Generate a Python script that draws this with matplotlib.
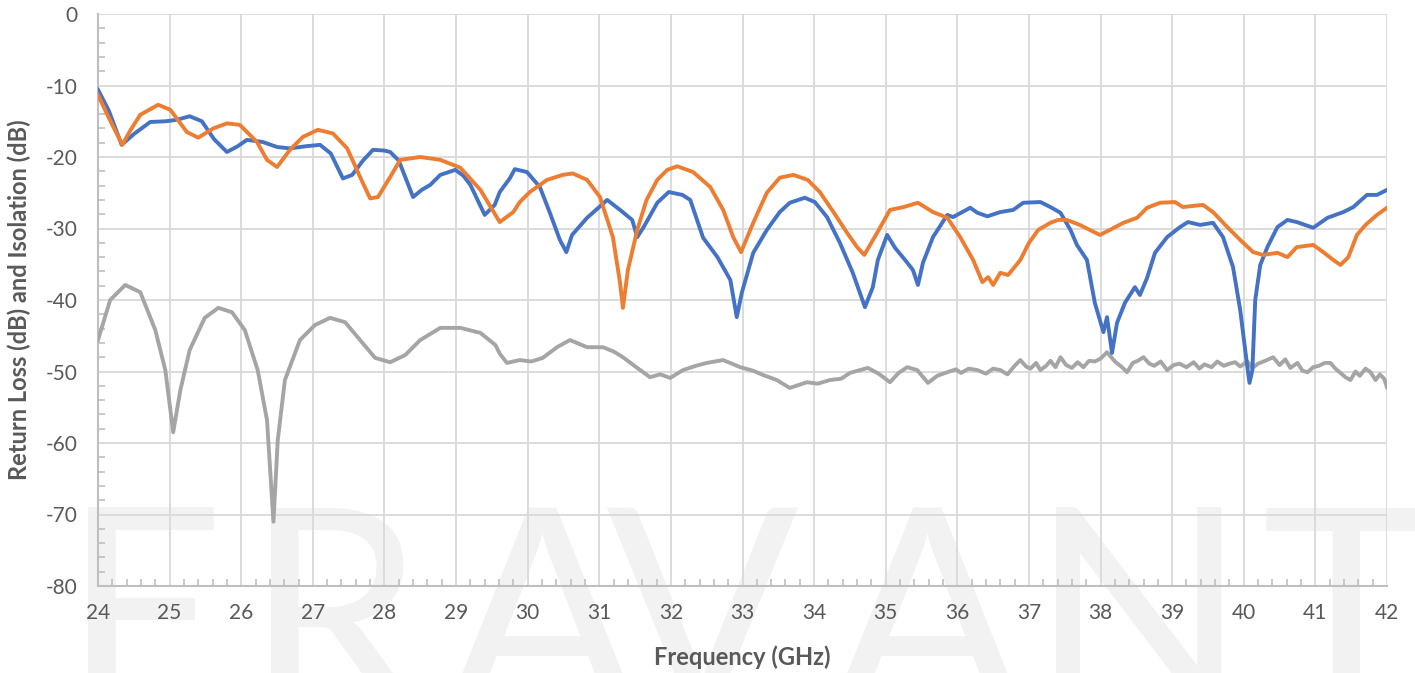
import matplotlib
matplotlib.use('Agg')
import matplotlib.pyplot as plt
from matplotlib.ticker import MultipleLocator

plt.rcParams['font.family'] = ['Lato', 'DejaVu Sans']
plt.rcParams['axes.unicode_minus'] = False

# return loss, port 1 (blue)
f_s11 = [24.0, 24.15, 24.33, 24.5, 24.73, 24.95, 25.1, 25.28, 25.45, 25.62, 25.8, 25.95, 26.08,
         26.3, 26.5, 26.68, 26.9, 27.1, 27.25, 27.42, 27.55, 27.7, 27.84, 28.0, 28.08, 28.2,
         28.4, 28.52, 28.64, 28.78, 28.99, 29.1, 29.2, 29.4, 29.54, 29.61, 29.75, 29.82,
         29.99, 30.17, 30.31, 30.45, 30.54, 30.62, 30.83, 31.0, 31.11, 31.29, 31.46, 31.53,
         31.62, 31.81, 31.97, 32.16, 32.27, 32.45, 32.65, 32.83, 32.92, 32.99, 33.15, 33.34,
         33.52, 33.66, 33.87, 34.01, 34.18, 34.36, 34.54, 34.71, 34.82, 34.89, 35.02, 35.13,
         35.27, 35.38, 35.45, 35.52, 35.66, 35.86, 35.94, 36.07, 36.18, 36.28, 36.42, 36.6,
         36.78, 36.92, 37.16, 37.3, 37.44, 37.58, 37.67, 37.81, 37.92, 38.04, 38.09, 38.16,
         38.23, 38.34, 38.48, 38.55, 38.65, 38.76, 38.93, 39.11, 39.22, 39.39, 39.57, 39.71,
         39.85, 39.95, 40.05, 40.08, 40.12, 40.16, 40.23, 40.33, 40.47, 40.61, 40.74, 40.97,
         41.17, 41.39, 41.53, 41.72, 41.86, 42.0]
s11 = [-10.6, -13.5, -18.3, -16.8, -15.1, -15.0, -14.8, -14.3, -15.0, -17.5, -19.3, -18.5, -17.6,
       -17.9, -18.6, -18.8, -18.5, -18.3, -19.5, -23.0, -22.5, -20.5, -19.0, -19.1, -19.3, -20.5,
       -25.6, -24.6, -23.9, -22.5, -21.8, -22.6, -23.9, -28.1, -26.7, -24.9, -23.0, -21.7,
       -22.1, -24.2, -27.8, -31.6, -33.3, -30.9, -28.5, -27.0, -26.0, -27.4, -28.8, -31.2,
       -29.8, -26.4, -24.9, -25.3, -26.0, -31.3, -34.0, -37.2, -42.4, -39.0, -33.4, -30.2,
       -27.7, -26.4, -25.7, -26.3, -28.4, -32.0, -36.2, -41.0, -38.2, -34.4, -30.9, -32.7,
       -34.4, -35.8, -37.9, -34.8, -31.2, -28.1, -28.4, -27.7, -27.1, -27.8, -28.3, -27.7,
       -27.4, -26.4, -26.3, -27.0, -27.8, -30.2, -32.3, -34.4, -40.4, -44.5, -42.4, -47.4,
       -43.2, -40.4, -38.2, -39.3, -36.9, -33.4, -31.2, -29.8, -29.1, -29.5, -29.2, -31.2,
       -35.4, -41.4, -49.4, -51.6, -49.8, -40.0, -35.1, -32.6, -29.8, -28.8, -29.1, -29.9,
       -28.5, -27.7, -27.0, -25.3, -25.3, -24.6]

# return loss, port 2 (orange)
f_s22 = [24.0, 24.15, 24.34, 24.45, 24.59, 24.84, 25.01, 25.24, 25.4, 25.61, 25.8, 25.98, 26.22,
         26.36, 26.5, 26.68, 26.86, 27.07, 27.28, 27.48, 27.66, 27.8, 27.91, 28.08, 28.22, 28.5,
         28.78, 29.06, 29.34, 29.61, 29.8, 29.89, 30.03, 30.27, 30.49, 30.63, 30.83, 31.01,
         31.19, 31.29, 31.33, 31.4, 31.53, 31.66, 31.81, 31.95, 32.09, 32.31, 32.55, 32.73,
         32.87, 32.98, 33.15, 33.34, 33.52, 33.71, 33.91, 34.08, 34.27, 34.46, 34.6, 34.7,
         34.88, 35.06, 35.25, 35.45, 35.66, 35.86, 36.04, 36.22, 36.35, 36.43, 36.5, 36.6,
         36.71, 36.88, 37.0, 37.13, 37.3, 37.41, 37.53, 37.71, 37.99, 38.13, 38.32, 38.51,
         38.65, 38.83, 39.04, 39.15, 39.43, 39.57, 39.77, 39.95, 40.13, 40.27, 40.47, 40.61,
         40.74, 40.97, 41.11, 41.25, 41.35, 41.46, 41.58, 41.7, 41.86, 42.0]
s22 = [-11.3, -14.5, -18.3, -16.3, -14.1, -12.7, -13.4, -16.5, -17.3, -16.0, -15.3, -15.5, -17.9,
       -20.4, -21.4, -19.0, -17.2, -16.2, -16.7, -18.8, -22.8, -25.8, -25.6, -22.8, -20.4, -20.0,
       -20.4, -21.5, -24.6, -29.1, -27.7, -26.3, -24.9, -23.2, -22.5, -22.3, -23.2, -25.6,
       -31.2, -37.6, -41.1, -35.8, -30.2, -26.0, -23.2, -21.8, -21.3, -22.1, -24.2, -27.4,
       -31.2, -33.3, -29.2, -25.0, -22.9, -22.5, -23.2, -24.9, -27.7, -30.6, -32.6, -33.7,
       -30.6, -27.4, -27.0, -26.4, -27.7, -28.5, -31.2, -34.4, -37.5, -36.8, -37.9, -36.2,
       -36.5, -34.4, -32.0, -30.2, -29.2, -28.8, -28.8, -29.5, -30.9, -30.2, -29.2, -28.5,
       -27.1, -26.4, -26.3, -27.0, -26.7, -27.7, -29.8, -31.6, -33.3, -33.7, -33.4, -34.0,
       -32.6, -32.3, -33.3, -34.4, -35.1, -34.0, -30.9, -29.5, -28.1, -27.1]

# isolation (gray)
f_iso = [24.0, 24.17, 24.38, 24.59, 24.8, 24.94, 25.05, 25.15, 25.28, 25.49, 25.68, 25.87, 26.05,
         26.23, 26.36, 26.45, 26.51, 26.61, 26.82, 27.03, 27.24, 27.45, 27.66, 27.87, 28.08,
         28.29, 28.5, 28.78, 29.06, 29.34, 29.55, 29.61, 29.71, 29.89, 30.05, 30.21, 30.41,
         30.59, 30.83, 31.05, 31.2, 31.33, 31.53, 31.71, 31.85, 31.99, 32.17, 32.35, 32.5,
         32.73, 32.97, 33.15, 33.29, 33.48, 33.66, 33.9, 34.05, 34.22, 34.38, 34.5, 34.75,
         34.9, 35.06, 35.18, 35.3, 35.44, 35.59, 35.72, 35.86, 35.98, 36.05, 36.16, 36.28,
         36.4, 36.5, 36.6, 36.7, 36.8, 36.88, 36.96, 37.02, 37.1, 37.16, 37.24, 37.3,
         37.37, 37.44, 37.52, 37.6, 37.68, 37.76, 37.84, 37.92, 38.0, 38.09, 38.2, 38.3,
         38.37, 38.45, 38.52, 38.6, 38.68, 38.75, 38.84, 38.93, 39.02, 39.1, 39.2, 39.3,
         39.38, 39.45, 39.55, 39.63, 39.72, 39.8, 39.88, 39.95, 40.05, 40.12, 40.2, 40.3,
         40.41, 40.5, 40.58, 40.65, 40.75, 40.82, 40.89, 40.97, 41.05, 41.13, 41.21, 41.28,
         41.35, 41.42, 41.49, 41.56, 41.62, 41.7, 41.77, 41.84, 41.9, 41.96, 42.0]
iso = [-45.6, -40.0, -37.9, -38.9, -44.2, -49.8, -58.5, -52.6, -47.0, -42.5, -41.1, -41.7, -44.2,
       -49.8, -56.8, -71.0, -59.6, -51.2, -45.6, -43.5, -42.5, -43.1, -45.6, -48.1, -48.7,
       -47.7, -45.6, -43.9, -43.9, -44.6, -46.3, -47.5, -48.8, -48.4, -48.6, -48.1, -46.6,
       -45.6, -46.6, -46.6, -47.2, -48.0, -49.5, -50.8, -50.4, -50.9, -49.8, -49.2, -48.8,
       -48.4, -49.4, -49.9, -50.5, -51.2, -52.3, -51.5, -51.7, -51.2, -51.0, -50.2, -49.5,
       -50.3, -51.5, -50.2, -49.4, -49.8, -51.6, -50.6, -50.1, -49.7, -50.2, -49.6, -49.8,
       -50.3, -49.6, -49.8, -50.4, -49.2, -48.4, -49.3, -49.6, -48.8, -49.8, -49.2, -48.5,
       -49.4, -48.0, -49.1, -49.5, -48.7, -49.4, -48.5, -48.6, -48.2, -47.3, -48.6, -49.4,
       -50.1, -48.8, -48.5, -48.0, -48.9, -49.2, -48.6, -49.8, -49.1, -48.9, -49.4, -48.7,
       -49.6, -49.0, -49.4, -48.6, -49.2, -48.9, -48.7, -49.3, -48.6, -49.5, -48.9, -48.5,
       -48.0, -49.1, -48.3, -49.5, -48.8, -49.9, -50.1, -49.4, -49.2, -48.8, -48.8, -49.6,
       -50.2, -50.8, -51.2, -50.0, -50.6, -49.6, -50.1, -51.2, -50.4, -51.0, -52.2]

x_ticks = list(range(24, 43))
y_ticks = list(range(-80, 1, 10))
watermark = ['E', 'R', 'A', 'V', 'A', 'N', 'T']
wm_x = [62, 245, 445, 605, 830, 1030, 1262]   # pixel left edges

fig = plt.figure(figsize=(14.15, 6.73), dpi=100)
ax = fig.add_axes([98 / 1415, 1 - 586 / 673, 1289 / 1415, 572 / 673])
ax.patch.set_alpha(0)

for ch, px in zip(watermark, wm_x):
    fig.text(px / 1415, 1 - 712 / 673, ch, fontsize=205, color='#f2f2f2',
             fontweight='normal', ha='left', va='baseline', zorder=-5,
             family=['Lato', 'DejaVu Sans'])

ax.plot(f_iso, iso, color='#a5a5a5', lw=2.8, zorder=3)
ax.plot(f_s11, s11, color='#4472c4', lw=2.8, zorder=4)
ax.plot(f_s22, s22, color='#ed7d31', lw=2.8, zorder=5)

ax.set_xlim(24, 42)
ax.set_ylim(-80, 0)
ax.set_xticks(x_ticks)
ax.set_yticks(y_ticks)
ax.xaxis.set_minor_locator(MultipleLocator(0.2))
ax.yaxis.set_minor_locator(MultipleLocator(2))
ax.grid(True, which='major', color='#d9d9d9', lw=1.3)
ax.set_axisbelow(True)

for s in ['top', 'right']:
    ax.spines[s].set_visible(False)
for s in ['left', 'bottom']:
    ax.spines[s].set_color('#bfbfbf')
    ax.spines[s].set_linewidth(1.5)

ax.tick_params(which='major', length=0, labelsize=15, labelcolor='#595959')
ax.tick_params(axis='x', which='major', pad=12)
ax.tick_params(axis='y', which='major', pad=15)
ax.tick_params(which='minor', direction='in', length=5, width=1.2, color='#bfbfbf')

fig.text(742 / 1415, 1 - 657 / 673, 'Frequency (GHz)', ha='center', va='center',
         fontsize=17, fontweight='bold', color='#595959')
fig.text(19 / 1415, 1 - 300 / 673, 'Return Loss (dB) and Isolation (dB)', ha='center',
         va='center', rotation=90, fontsize=17, fontweight='bold', color='#595959')

fig.savefig('out.png', dpi=100)
